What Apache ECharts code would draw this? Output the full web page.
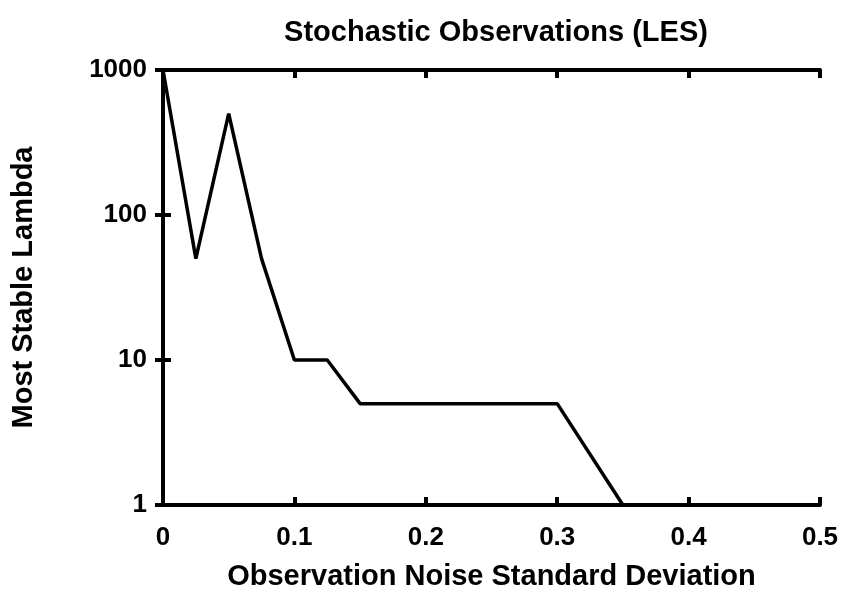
<!DOCTYPE html>
<html><head><meta charset="utf-8">
<script src="https://cdn.jsdelivr.net/npm/echarts@6/dist/echarts.min.js"></script>
<style>html,body{margin:0;padding:0;background:#fff}#c{width:847px;height:597px}</style>
</head><body><div id="c"></div>
<script>
const xValues = [0, 0.025, 0.05, 0.075, 0.1, 0.125, 0.15, 0.3, 0.35, 0.5];
const yValues = [1000, 50, 500, 50, 10, 10, 5, 5, 1, 1];
const xTicks = [0, 0.1, 0.2, 0.3, 0.4, 0.5];
const yTicks = [1, 10, 100, 1000];
const FONT = '"Liberation Sans", Arial, sans-serif';
const lineCol = '#000';
const tick = {show: true, inside: true, length: 8, lineStyle: {color: lineCol, width: 4}};
const axLine = {show: true, lineStyle: {color: lineCol, width: 4}};
const labStyle = {fontFamily: FONT, fontWeight: 'bold', fontSize: 26, color: '#000'};
const nameStyle = {fontFamily: FONT, fontWeight: 'bold', fontSize: 29, color: '#000'};
const xFmt = v => { const t = xTicks.find(k => Math.abs(k - v) < 1e-9); return t === undefined ? '' : String(t); };
const yFmt = v => { const t = yTicks.find(k => Math.abs(k - v) < 1e-6 * k); return t === undefined ? '' : String(t); };
const chart = echarts.init(document.getElementById('c'));
chart.setOption({
  animation: false,
  backgroundColor: '#fff',
  title: {
    text: 'Stochastic Observations (LES)', left: 491, top: 13, textAlign: 'center',
    textStyle: {fontFamily: FONT, fontWeight: 'bold', fontSize: 29, color: '#000'}
  },
  grid: {left: 163, right: 27, top: 70, bottom: 92, show: false},
  xAxis: [{
    type: 'value', min: 0, max: 0.5, interval: 0.1, position: 'bottom',
    name: 'Observation Noise Standard Deviation', nameLocation: 'middle', nameGap: 57,
    nameTextStyle: nameStyle,
    axisLine: axLine, axisTick: tick, splitLine: {show: false},
    axisLabel: Object.assign({margin: 20, formatter: xFmt}, labStyle)
  }, {
    type: 'value', min: 0, max: 0.5, interval: 0.1, position: 'top',
    axisLine: axLine, axisTick: tick, splitLine: {show: false}, axisLabel: {show: false}
  }],
  yAxis: [{
    type: 'log', logBase: 10, min: 1, max: 1000, position: 'left',
    name: 'Most Stable Lambda', nameLocation: 'middle', nameGap: 125, nameRotate: 90,
    nameTextStyle: nameStyle,
    axisLine: axLine, axisTick: tick, minorTick: {show: false}, splitLine: {show: false},
    axisLabel: Object.assign({margin: 16, formatter: yFmt}, labStyle)
  }, {
    type: 'log', logBase: 10, min: 1, max: 1000, position: 'right',
    axisLine: axLine, axisTick: tick, minorTick: {show: false}, splitLine: {show: false}, axisLabel: {show: false}
  }],
  series: [{
    type: 'line', xAxisIndex: 0, yAxisIndex: 0,
    data: xValues.map((x, i) => [x, yValues[i]]),
    showSymbol: false, symbol: 'none',
    lineStyle: {color: '#000', width: 3.5}, clip: true
  }]
});
</script></body></html>
